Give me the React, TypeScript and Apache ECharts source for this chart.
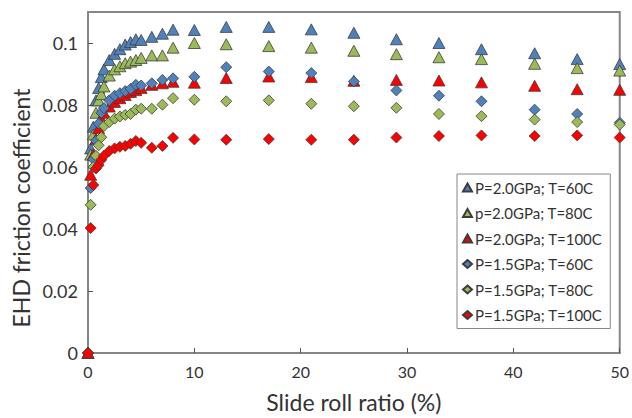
import React, { useEffect, useRef } from "react";
import * as echarts from "echarts";

// Slide-roll ratio (%) at which friction was measured
const srr = [0, 0.25, 0.5, 0.75, 1, 1.25, 1.5, 2, 2.5, 3, 3.5, 4, 4.5, 5, 6, 7, 8, 10, 13, 17, 21, 25, 29, 33, 37, 42, 46, 50];

// EHD friction coefficient for each pressure / temperature condition
const p20t60 = [0, 0.066, 0.073, 0.0815, 0.0855, 0.089, 0.0915, 0.0945, 0.0965, 0.098, 0.0995, 0.1003, 0.1012, 0.101, 0.102, 0.103, 0.1043, 0.1042, 0.1052, 0.1052, 0.1044, 0.1033, 0.1012, 0.1, 0.098, 0.0967, 0.0948, 0.0932];
const p20t80 = [0, 0.064, 0.0705, 0.0775, 0.0815, 0.0835, 0.086, 0.0895, 0.0915, 0.0925, 0.0935, 0.094, 0.0945, 0.0952, 0.096, 0.096, 0.0985, 0.1, 0.0996, 0.099, 0.0985, 0.0975, 0.0964, 0.0954, 0.0948, 0.0933, 0.0919, 0.0911];
const p20t100 = [0, 0.0575, 0.064, 0.069, 0.0725, 0.0755, 0.0775, 0.0795, 0.081, 0.0822, 0.0832, 0.0842, 0.0848, 0.0855, 0.0865, 0.087, 0.0875, 0.0872, 0.0887, 0.0892, 0.089, 0.0878, 0.0881, 0.0879, 0.0873, 0.0862, 0.0851, 0.0849];
const p15t60 = [0, 0.0532, 0.0625, 0.0685, 0.074, 0.0775, 0.079, 0.0815, 0.083, 0.0838, 0.0845, 0.0852, 0.0865, 0.0863, 0.087, 0.0881, 0.0886, 0.0891, 0.0922, 0.0908, 0.0903, 0.0876, 0.0847, 0.083, 0.0812, 0.0785, 0.0771, 0.0743];
const p15t80 = [0, 0.0478, 0.06, 0.0636, 0.067, 0.0696, 0.0732, 0.0745, 0.0756, 0.0763, 0.0768, 0.0771, 0.0785, 0.0788, 0.0788, 0.0801, 0.0822, 0.0817, 0.0812, 0.0815, 0.0804, 0.0796, 0.0791, 0.0771, 0.0764, 0.0753, 0.0745, 0.0737];
const p15t100 = [0, 0.0403, 0.0542, 0.0595, 0.0606, 0.0623, 0.0636, 0.0652, 0.066, 0.0665, 0.0668, 0.0675, 0.0684, 0.0678, 0.0662, 0.0668, 0.0694, 0.0689, 0.0688, 0.069, 0.0688, 0.0688, 0.0695, 0.07, 0.0702, 0.07, 0.0702, 0.0695];

const seriesNames = [
  "P=2.0GPa; T=60C",
  "p=2.0GPa; T=80C",
  "P=2.0GPa; T=100C",
  "P=1.5GPa; T=60C",
  "P=1.5GPa; T=80C",
  "P=1.5GPa; T=100C",
];
const seriesValues = [p20t60, p20t80, p20t100, p15t60, p15t80, p15t100];
const seriesColors = ["#4F81BD", "#9BBB59", "#FF0000", "#4F81BD", "#9BBB59", "#FF0000"];
const seriesShapes = ["triangle", "triangle", "triangle", "diamond", "diamond", "diamond"];

const xTicks = { min: 0, max: 50, step: 10 };
const yTicks = { min: 0, max: 0.11, step: 0.02 };

const FONT = "Lato, 'Open Sans', sans-serif";
const TEXT = "#333333";
const FRAME = "#868686";

export default function App() {
  const ref = useRef<HTMLDivElement>(null);

  useEffect(() => {
    if (!ref.current) return;
    const chart = echarts.init(ref.current, undefined, { renderer: "svg" });

    const series = seriesNames.map((name, i) => ({
      name,
      type: "scatter",
      clip: false,
      symbol: seriesShapes[i],
      symbolSize: seriesShapes[i] === "triangle" ? [12, 11] : [11, 11],
      itemStyle: {
        color: seriesColors[i],
        borderColor: "#3c3c3c",
        borderWidth: 0.8,
        opacity: 1,
      },
      emphasis: { disabled: true },
      z: 2 + i,
      data: srr.map((x, k) => [x, seriesValues[i][k]]),
    }));

    chart.setOption({
      animation: false,
      backgroundColor: "#ffffff",
      textStyle: { fontFamily: FONT },
      grid: {
        left: 88,
        right: 12,
        top: 12,
        bottom: 63,
        show: true,
        borderColor: FRAME,
        borderWidth: 2,
        backgroundColor: "transparent",
      },
      legend: {
        orient: "vertical",
        left: 457,
        top: 174,
        padding: [6, 8, 6, 5],
        itemGap: 10.5,
        itemWidth: 9,
        itemHeight: 8,
        borderColor: FRAME,
        borderWidth: 1,
        backgroundColor: "#ffffff",
        textStyle: {
          fontFamily: FONT,
          fontSize: 15,
          lineHeight: 15,
          color: TEXT,
          padding: [0, 0, 0, -2],
        },
        data: seriesNames.map((name) => ({ name })),
      },
      xAxis: {
        type: "value",
        min: xTicks.min,
        max: xTicks.max,
        interval: xTicks.step,
        axisLine: { show: true, lineStyle: { color: FRAME, width: 2 } },
        axisTick: { show: true, inside: true, length: 5, lineStyle: { color: "#555", width: 1 } },
        splitLine: { show: false },
        axisLabel: { color: TEXT, fontSize: 16, fontFamily: FONT, margin: 10 },
        name: "Slide roll ratio (%)",
        nameLocation: "middle",
        nameGap: 37,
        nameTextStyle: { color: TEXT, fontSize: 23, fontFamily: FONT },
      },
      yAxis: {
        type: "value",
        min: yTicks.min,
        max: yTicks.max,
        interval: yTicks.step,
        axisLine: { show: true, lineStyle: { color: FRAME, width: 2 } },
        axisTick: { show: true, inside: true, length: 5, lineStyle: { color: "#555", width: 1 } },
        splitLine: { show: false },
        axisLabel: { color: TEXT, fontSize: 18, fontFamily: FONT, margin: 10, showMaxLabel: false },
      },
      graphic: [
        {
          type: "text",
          x: 21,
          y: 208,
          rotation: Math.PI / 2,
          style: {
            text: "EHD friction coefficient",
            fontFamily: FONT,
            fontSize: 23,
            fill: TEXT,
            textAlign: "center",
            textVerticalAlign: "middle",
          },
        },
      ],
      series,
    });

    return () => chart.dispose();
  }, []);

  return (
    <div
      ref={ref}
      style={{ position: "fixed", left: 0, top: 0, width: 632, height: 418, background: "#fff" }}
    />
  );
}
